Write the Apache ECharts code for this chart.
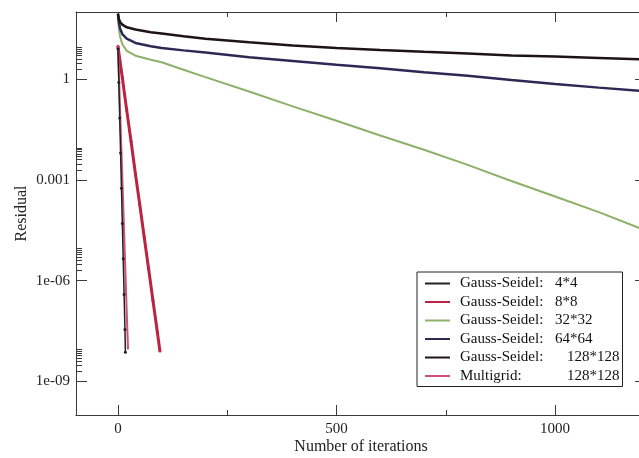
<!DOCTYPE html>
<html><head><meta charset="utf-8">
<script src="https://cdn.jsdelivr.net/npm/echarts@6/dist/echarts.min.js"></script>
<style>html,body{margin:0;padding:0;background:#fff}#c{width:639px;height:458px}</style>
</head><body><div id="c"></div>
<script>
// ---- data ----
const iterSlow = [0, 2, 5, 10, 20, 40, 75, 100, 150, 200, 300, 400, 500, 600, 700, 800, 900, 1000, 1100, 1200];
const gs128 = [89, 63, 50, 42, 35, 30, 25, 23, 19, 16, 12.6, 10, 8.5, 7.4, 6.5, 5.8, 5.1, 4.7, 4.3, 3.9];
const gs64  = [89, 50, 32, 22, 16, 12, 9.5, 8.5, 7.2, 6.2, 4.5, 3.5, 2.7, 2.1, 1.6, 1.26, 0.95, 0.72, 0.56, 0.44];
const gs32  = [80, 32, 18, 11, 7, 5, 3.8, 3.2, 1.9, 1.15, 0.43, 0.155, 0.058, 0.021, 0.0079, 0.0028, 0.00093, 0.00032, 0.00011, 3.4e-5];
const iter8 = [0, 10, 20, 30, 40, 50, 60, 70, 80, 90, 96];
const gs8   = [9.5, 1.1, 0.12, 0.014, 0.0015, 1.8e-4, 2.0e-5, 2.3e-6, 2.6e-7, 3e-8, 8e-9];
const iter4 = [0, 2, 4, 6, 8, 10, 12, 14, 16, 17];
const gs4   = [8, 0.8, 0.07, 0.0063, 5.6e-4, 5e-5, 4.5e-6, 3.9e-7, 3.5e-8, 7.4e-9];
const iterMG = [0, 4, 8, 12, 16, 20, 23];
const mg128  = [10, 0.26, 0.0068, 1.8e-4, 4.7e-6, 1.2e-7, 9e-9];

const methods = ['Gauss-Seidel:', 'Gauss-Seidel:', 'Gauss-Seidel:', 'Gauss-Seidel:', 'Gauss-Seidel:', 'Multigrid:'];
const sizes = ['4*4', '8*8', '32*32', '64*64', '128*128', '128*128'];

const xLabelTicks = [0, 500, 1000];
const xMinorTicks = [250, 750];
const yLabelTicks = [1e-9, 1e-6, 1e-3, 1];
const yLabelText = ['1e-09', '1e-06', '0.001', '1'];
const yMinorTicks = [2e-9,3e-9,4e-9,5e-9,6e-9,7e-9,8e-9,9e-9,
                     2e-6,3e-6,4e-6,5e-6,6e-6,7e-6,8e-6,9e-6,
                     2e-3,3e-3,4e-3,5e-3,6e-3,7e-3,8e-3,9e-3,
                     2,3,4,5,6,7,8,9];

// ---- chart ----
const names = methods.map((m, i) => m + ' ' + sizes[i]);
const FONT = 'Liberation Serif';
const AX = '#3a3a3a';

function pairs(xs, ys) { return xs.map((x, i) => [x, ys[i]]); }

const xCommon = { type: 'value', min: -96, max: 1208, splitLine: { show: false },
  axisLine: { onZero: false, lineStyle: { color: AX, width: 1 } } };
const yCommon = { type: 'log', logBase: 10, min: 1e-10, max: 100, splitLine: { show: false },
  axisLine: { onZero: false, lineStyle: { color: AX, width: 1 } } };
const hiddenLine = { show: false, onZero: false };

function yFmt(v) {
  const i = yLabelTicks.findIndex(t => Math.abs(Math.log10(t) - Math.log10(v)) < 1e-6);
  return i >= 0 ? yLabelText[i] : '';
}

const chart = echarts.init(document.getElementById('c'), null, { renderer: 'canvas' });
chart.setOption({
  animation: false,
  backgroundColor: '#fff',
  grid: { left: 76, top: 12, width: 570, height: 403, containLabel: false, outerBoundsMode: 'none' },
  xAxis: [
    Object.assign({}, xCommon, { position: 'bottom',
      axisTick: { inside: true, length: 10, customValues: xLabelTicks, lineStyle: { color: AX } },
      axisLabel: { customValues: xLabelTicks, formatter: v => String(v), margin: 7, fontFamily: FONT, fontSize: 15, color: '#222' },
      name: 'Number of iterations', nameLocation: 'middle', nameGap: 24, nameMoveOverlap: false,
      nameTextStyle: { fontFamily: FONT, fontSize: 16, color: '#222' } }),
    Object.assign({}, xCommon, { position: 'bottom', axisLine: hiddenLine,
      axisTick: { inside: true, length: 5, customValues: xMinorTicks, lineStyle: { color: AX } },
      axisLabel: { show: false } }),
    Object.assign({}, xCommon, { position: 'top',
      axisTick: { inside: true, length: 10, customValues: xLabelTicks, lineStyle: { color: AX } },
      axisLabel: { show: false } }),
    Object.assign({}, xCommon, { position: 'top', axisLine: hiddenLine,
      axisTick: { inside: true, length: 5, customValues: xMinorTicks, lineStyle: { color: AX } },
      axisLabel: { show: false } })
  ],
  yAxis: [
    Object.assign({}, yCommon, { position: 'left',
      axisTick: { inside: true, length: 11, customValues: yLabelTicks, lineStyle: { color: AX } },
      axisLabel: { customValues: yLabelTicks, formatter: yFmt, margin: 6, fontFamily: FONT, fontSize: 15, color: '#222' },
      name: 'Residual', nameLocation: 'middle', nameGap: 46, nameRotate: 90, nameMoveOverlap: false,
      nameTextStyle: { fontFamily: FONT, fontSize: 16, color: '#222' } }),
    Object.assign({}, yCommon, { position: 'left', axisLine: hiddenLine,
      axisTick: { inside: true, length: 6, customValues: yMinorTicks, lineStyle: { color: AX } },
      axisLabel: { show: false } }),
    Object.assign({}, yCommon, { position: 'right',
      axisTick: { inside: true, length: 11, customValues: yLabelTicks, lineStyle: { color: AX } },
      axisLabel: { show: false } }),
    Object.assign({}, yCommon, { position: 'right', axisLine: hiddenLine,
      axisTick: { inside: true, length: 6, customValues: yMinorTicks, lineStyle: { color: AX } },
      axisLabel: { show: false } })
  ],
  legend: {
    orient: 'vertical', left: 417, top: 272,
    backgroundColor: '#fff', borderColor: '#222', borderWidth: 1, borderRadius: 0,
    padding: [4, 3, 3, 8], itemGap: 3.5, itemWidth: 25, itemHeight: 2,
    icon: 'rect',
    data: names,
    formatter: function (name) {
      const i = names.indexOf(name);
      const big = sizes[i] === '128*128';
      return '{a|' + methods[i] + '}{' + (big ? 'c' : 'b') + '|' + sizes[i] + '}';
    },
    textStyle: { fontFamily: FONT, fontSize: 15, color: '#111',
      rich: {
        a: { fontFamily: FONT, fontSize: 15, color: '#111', width: 95, padding: [0, 0, 0, 5], lineHeight: 15 },
        b: { fontFamily: FONT, fontSize: 15, color: '#111', lineHeight: 15 },
        c: { fontFamily: FONT, fontSize: 15, color: '#111', padding: [0, 0, 0, 12], lineHeight: 15 }
      } }
  },
  series: [
    { name: names[0], type: 'line', data: pairs(iter4, gs4), symbol: 'circle', symbolSize: 3, showSymbol: true,
      lineStyle: { color: '#222', width: 1.5 }, itemStyle: { color: '#222' }, z: 6 },
    { name: names[1], type: 'line', data: pairs(iter8, gs8), symbol: 'circle', symbolSize: 3, showSymbol: true,
      lineStyle: { color: '#bb2342', width: 3 }, itemStyle: { color: '#bb2342' }, z: 4 },
    { name: names[2], type: 'line', data: pairs(iterSlow, gs32), symbol: 'none',
      lineStyle: { color: '#8db06a', width: 2 }, itemStyle: { color: '#8db06a' }, z: 3 },
    { name: names[3], type: 'line', data: pairs(iterSlow, gs64), symbol: 'none',
      lineStyle: { color: '#2c2a55', width: 2.5 }, itemStyle: { color: '#2c2a55' }, z: 3 },
    { name: names[4], type: 'line', data: pairs(iterSlow, gs128), symbol: 'none',
      lineStyle: { color: '#1e1414', width: 2.5 }, itemStyle: { color: '#1e1414' }, z: 3 },
    { name: names[5], type: 'line', data: pairs(iterMG, mg128), symbol: 'none',
      lineStyle: { color: '#d0507a', width: 2 }, itemStyle: { color: '#d0507a' }, z: 5 }
  ]
});
</script>
</body></html>
